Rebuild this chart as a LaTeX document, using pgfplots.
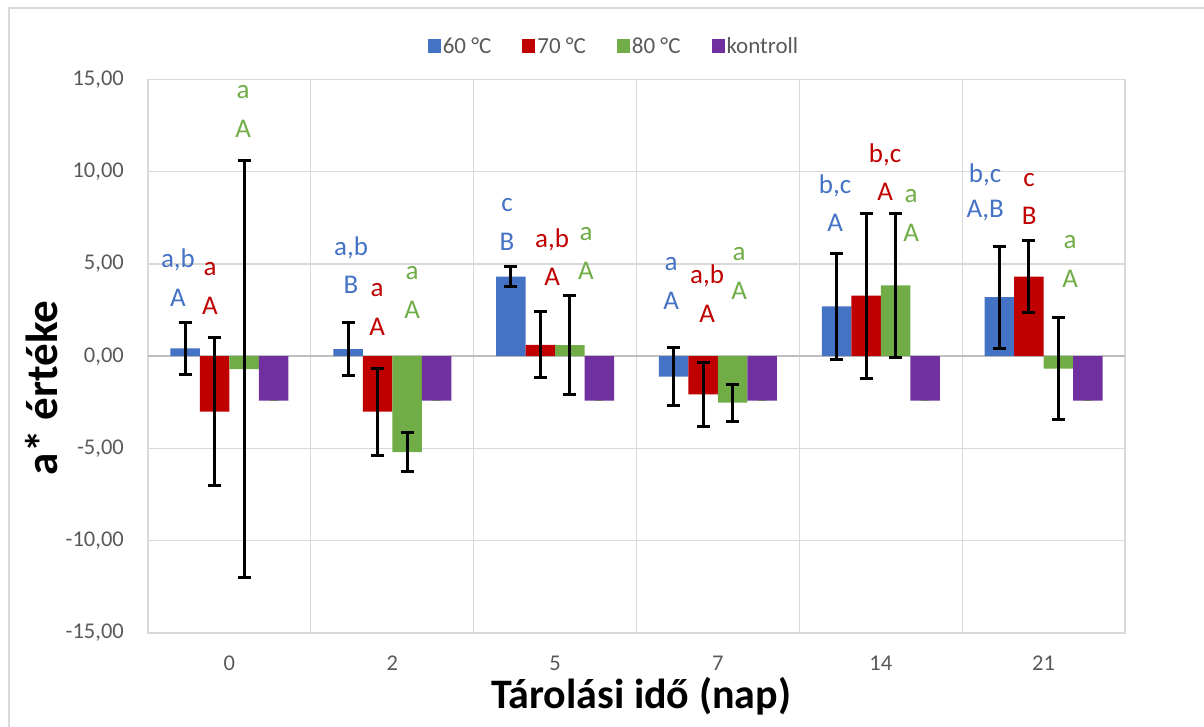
\documentclass[border=0pt]{standalone}
\usepackage{pgfplots}
\pgfplotsset{compat=1.18}
\usepackage{fontspec}
\setmainfont{Carlito}
\definecolor{c60}{HTML}{4472C4}
\definecolor{c70}{HTML}{C00000}
\definecolor{c80}{HTML}{70AD47}
\definecolor{ck}{HTML}{7030A0}
\definecolor{gridgray}{HTML}{D9D9D9}
\definecolor{zerogray}{HTML}{BFBFBF}
\definecolor{tickgray}{HTML}{595959}
\pgfplotsset{
  myleg/.style={legend image code/.code={\fill[##1, draw=none] (-5pt,-7pt) rectangle (8pt,7pt);}},
  myerr/.style={error bars/.cd, y dir=both, y explicit,
    error bar style={line width=3pt, black},
    error mark options={black, line width=3pt, mark size=6.5pt, rotate=90}},
}
\newcommand{\lab}{\fontsize{27}{31}\selectfont}
\begin{document}
\begin{tikzpicture}[x=1pt,y=1pt]
\begin{axis}[
  at={(148pt,94pt)}, anchor=south west,
  scale only axis, width=977pt, height=553.5pt,
  xmin=-0.5, xmax=5.5, ymin=-15, ymax=15,
  ybar=0pt, bar width=29.5pt,
  xtick={0,...,5}, xticklabels={0,2,5,7,14,21},
  minor xtick={0.5,1.5,2.5,3.5,4.5},
  ytick={-15,-10,...,15},
  extra y ticks={0}, extra y tick labels={},
  extra y tick style={grid style={draw=zerogray, line width=1.8pt}},
  ymajorgrids, xminorgrids,
  grid style={draw=gridgray, line width=1.3pt},
  minor grid style={draw=gridgray, line width=1.3pt},
  axis line style={draw=gridgray, line width=1.3pt},
  major tick length=0pt, minor tick length=0pt,
  tick label style={font=\fontsize{22.5}{26}\selectfont, text=tickgray},
  /pgf/number format/fixed, /pgf/number format/fixed zerofill,
  /pgf/number format/precision=2, /pgf/number format/use comma,
  /pgf/number format/assume math mode=true,
  yticklabel style={anchor=east, inner sep=0pt, xshift=-24pt},
  xticklabel style={anchor=north, inner sep=0pt, yshift=-23pt},
  legend style={at={(0.477,1.0605)}, anchor=center, draw=none, fill=none,
    font=\fontsize{23}{26}\selectfont, text=tickgray,
    /tikz/every even column/.append style={column sep=29pt}},
  legend columns=4,
]
\addplot[fill=c60, draw=none, myleg, myerr] coordinates {
  (0,0.42) +- (0,1.43)
  (1,0.38) +- (0,1.43)
  (2,4.32) +- (0,0.55)
  (3,-1.10) +- (0,1.55)
  (4,2.70) +- (0,2.88)
  (5,3.20) +- (0,2.76)
};
\addplot[fill=c70, draw=none, myleg, myerr] coordinates {
  (0,-3.00) +- (0,4.03)
  (1,-3.00) +- (0,2.36)
  (2,0.62) +- (0,1.78)
  (3,-2.07) +- (0,1.73)
  (4,3.28) +- (0,4.48)
  (5,4.32) +- (0,1.96)
};
\addplot[fill=c80, draw=none, myleg, myerr] coordinates {
  (0,-0.70) +- (0,11.30)
  (1,-5.20) +- (0,1.06)
  (2,0.60) +- (0,2.70)
  (3,-2.52) +- (0,0.99)
  (4,3.84) +- (0,3.92)
  (5,-0.67) +- (0,2.75)
};
\addplot[fill=ck, draw=none, myleg, error bars/.cd, y dir=both, y explicit,
    error bar style={line width=1.5pt, zerogray!60!black},
    error mark options={zerogray!60!black, line width=1.5pt, mark size=4pt, rotate=90}] coordinates {
  (0,-2.40) +- (0,0)
  (1,-2.40) +- (0,0)
  (2,-2.40) +- (0,0)
  (3,-2.40) +- (0,0)
  (4,-2.40) +- (0,0)
  (5,-2.40) +- (0,0)
};
\legend{60 °C, 70 °C, 80 °C, kontroll}
% letter labels
\node[text=c60, font=\lab] at (axis cs:-0.316,5.22) {a,b};
\node[text=c60, font=\lab] at (axis cs:-0.316,3.16) {A};
\node[text=c70, font=\lab] at (axis cs:-0.119,4.73) {a};
\node[text=c70, font=\lab] at (axis cs:-0.119,2.73) {A};
\node[text=c80, font=\lab] at (axis cs:0.084,14.33) {a};
\node[text=c80, font=\lab] at (axis cs:0.084,12.32) {A};
\node[text=c60, font=\lab] at (axis cs:0.747,5.87) {a,b};
\node[text=c60, font=\lab] at (axis cs:0.747,3.86) {B};
\node[text=c70, font=\lab] at (axis cs:0.907,3.59) {a};
\node[text=c70, font=\lab] at (axis cs:0.907,1.59) {A};
\node[text=c80, font=\lab] at (axis cs:1.122,4.51) {a};
\node[text=c80, font=\lab] at (axis cs:1.122,2.51) {A};
\node[text=c60, font=\lab] at (axis cs:1.705,8.20) {c};
\node[text=c60, font=\lab] at (axis cs:1.705,6.20) {B};
\node[text=c70, font=\lab] at (axis cs:1.982,6.30) {a,b};
\node[text=c70, font=\lab] at (axis cs:1.982,4.30) {A};
\node[text=c80, font=\lab] at (axis cs:2.19,6.63) {a};
\node[text=c80, font=\lab] at (axis cs:2.19,4.62) {A};
\node[text=c60, font=\lab] at (axis cs:2.713,5.00) {a};
\node[text=c60, font=\lab] at (axis cs:2.713,3.00) {A};
\node[text=c70, font=\lab] at (axis cs:2.934,4.35) {a,b};
\node[text=c70, font=\lab] at (axis cs:2.934,2.29) {A};
\node[text=c80, font=\lab] at (axis cs:3.13,5.54) {a};
\node[text=c80, font=\lab] at (axis cs:3.13,3.54) {A};
\node[text=c60, font=\lab] at (axis cs:3.72,9.23) {b,c};
\node[text=c60, font=\lab] at (axis cs:3.72,7.23) {A};
\node[text=c70, font=\lab] at (axis cs:4.027,10.91) {b,c};
\node[text=c70, font=\lab] at (axis cs:4.027,8.91) {A};
\node[text=c80, font=\lab] at (axis cs:4.187,8.69) {a};
\node[text=c80, font=\lab] at (axis cs:4.187,6.68) {A};
\node[text=c60, font=\lab] at (axis cs:4.641,9.83) {b,c};
\node[text=c60, font=\lab] at (axis cs:4.641,7.88) {A,B};
\node[text=c70, font=\lab] at (axis cs:4.911,9.56) {c};
\node[text=c70, font=\lab] at (axis cs:4.911,7.61) {B};
\node[text=c80, font=\lab] at (axis cs:5.163,6.20) {a};
\node[text=c80, font=\lab] at (axis cs:5.163,4.19) {A};
\end{axis}
\node[font=\fontsize{45}{50}\selectfont\bfseries, rotate=90, anchor=base, inner sep=0pt] at (57,339) {a* értéke};
\node[font=\fontsize{42}{48}\selectfont\bfseries, anchor=base, inner sep=0pt] at (641,18) {Tárolási idő (nap)};
\draw[gridgray, line width=1.3pt] (9,-10) rectangle (1215,719);
\pgfresetboundingbox
\useasboundingbox (0,0) rectangle (1204,727);
\end{tikzpicture}
\end{document}
